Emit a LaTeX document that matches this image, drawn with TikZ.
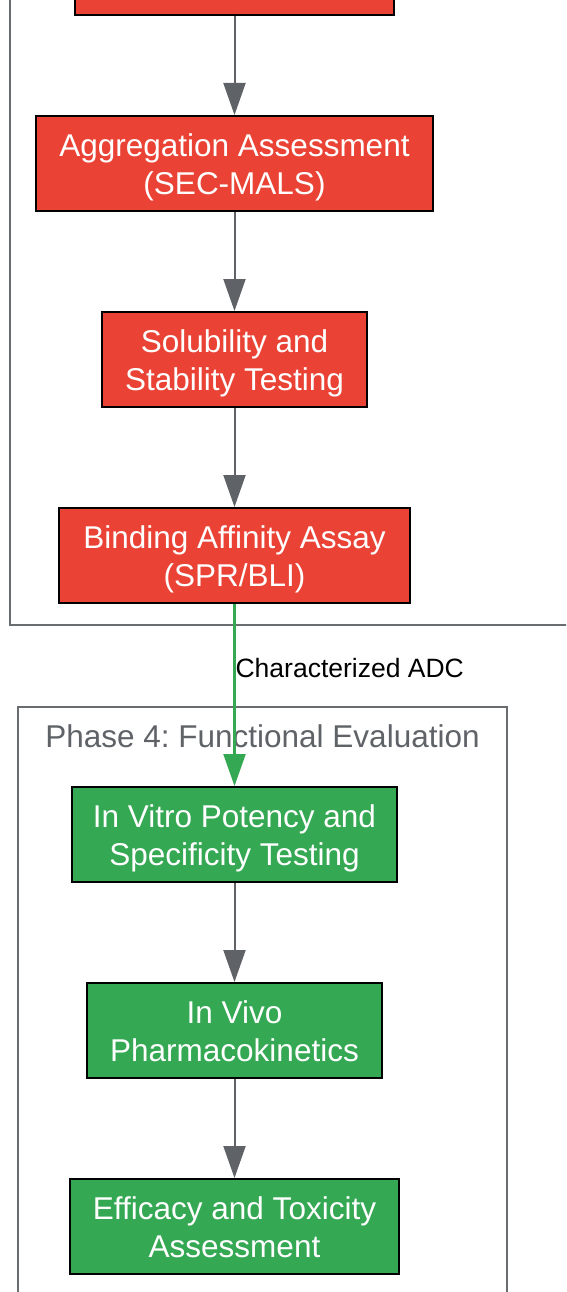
\documentclass[tikz,border=0pt]{standalone}
\usepackage{fontspec}
\setmainfont{Liberation Sans}
\usetikzlibrary{arrows.meta}
\frenchspacing
\definecolor{boxred}{HTML}{EA4335}
\definecolor{boxgreen}{HTML}{34A853}
\definecolor{arrowgray}{HTML}{5F6368}
\definecolor{clustergray}{HTML}{6A6D70}
\newcommand{\boxlines}[2]{\rule{0pt}{34pt}#1\\#2\rule[-10pt]{0pt}{10pt}}
\tikzset{
  stepbox/.style={draw=black, line width=2pt, inner sep=0pt, align=center,
    text=white, font=\fontsize{31.5}{38}\selectfont, minimum height=95pt},
  redbox/.style={stepbox, fill=boxred},
  greenbox/.style={stepbox, fill=boxgreen},
  flow/.style={draw=arrowgray, line width=2pt, -{Triangle[length=32pt,width=22pt]}},
  greenflow/.style={draw=boxgreen, line width=2.2pt, -{Triangle[length=32pt,width=22pt]}},
  cluster/.style={draw=clustergray, line width=2pt},
  clustertitle/.style={text=arrowgray, font=\fontsize{31.5}{38}\selectfont, inner sep=0pt},
  edgelabel/.style={text=black, font=\fontsize{26.5}{32}\selectfont, inner sep=0pt}
}
\begin{document}
\begin{tikzpicture}[x=1pt,y=-1pt]
\useasboundingbox (0,0) rectangle (566,1292);
\clip (0,0) rectangle (566,1292);
\fill[white] (0,0) rectangle (566,1292);
% clusters
\draw[cluster] (10,-200) rectangle (620,625);
\draw[cluster] (18,707) rectangle (507,1400);
\node[clustertitle, anchor=base] (title4) at (262.5,747) {Phase 4: Functional Evaluation};
% nodes
\node[redbox, minimum width=319pt] (prev) at (234.5,-32.5) {};
\node[redbox, minimum width=397pt] (agg) at (234.5,163.5) {\boxlines{Aggregation Assessment}{(SEC-MALS)}};
\node[redbox, minimum width=265pt] (sol) at (234.5,359.5) {\boxlines{Solubility and}{Stability Testing}};
\node[redbox, minimum width=351pt] (bind) at (234.5,555.5) {\boxlines{Binding Affinity Assay}{(SPR/BLI)}};
\node[greenbox, minimum width=325pt] (vitro) at (234.5,834.5) {\boxlines{In Vitro Potency and}{Specificity Testing}};
\node[greenbox, minimum width=295pt] (vivo) at (234.5,1030.5) {\boxlines{In Vivo}{Pharmacokinetics}};
\node[greenbox, minimum width=329pt] (eff) at (234.5,1226.5) {\boxlines{Efficacy and Toxicity}{Assessment}};
% connectors
\draw[flow] (prev) -- (agg);
\draw[flow] (agg) -- (sol);
\draw[flow] (sol) -- (bind);
\draw[greenflow] (bind) -- node[edgelabel, pos=0.405, anchor=base west] {Characterized ADC} (vitro);
\draw[flow] (vitro) -- (vivo);
\draw[flow] (vivo) -- (eff);
\end{tikzpicture}
\end{document}
